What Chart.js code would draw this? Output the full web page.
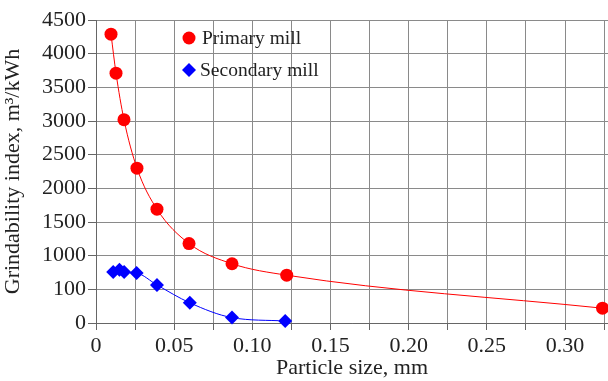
<!DOCTYPE html>
<html>
<head>
<meta charset="utf-8">
<script src="https://cdn.jsdelivr.net/npm/chart.js@4/dist/chart.umd.min.js"></script>
<style>
  html, body { margin: 0; padding: 0; background: #fff; }
  #wrap { width: 608px; height: 381px; }
</style>
</head>
<body>
<div id="wrap"><canvas id="chart" width="608" height="381"></canvas></div>
<script>
// particle sizes, mm (shared by both mills)
const primarySize = [0.0096, 0.0128, 0.0179, 0.0262, 0.039, 0.0595, 0.087, 0.122, 0.324];
const primaryIndex = [4290, 3710, 3020, 2300, 1690, 1180, 880, 710, 220];

const secondarySize = [0.011, 0.015, 0.018, 0.026, 0.039, 0.060, 0.087, 0.121];
const secondaryIndex = [757, 790, 757, 742, 565, 300, 80, 30];

// axis ticks (the original labels the 500 line as "100")
const yTicks = [0, 500, 1000, 1500, 2000, 2500, 3000, 3500, 4000, 4500];
const yTickLabels = ["0", "100", "1000", "1500", "2000", "2500", "3000", "3500", "4000", "4500"];
const xTicks = [0, 0.025, 0.05, 0.075, 0.1, 0.125, 0.15, 0.175, 0.2, 0.225, 0.25, 0.275, 0.3, 0.325];
const xTickLabels = ["0", "", "0.05", "", "0.10", "", "0.15", "", "0.20", "", "0.25", "", "0.30", ""];

const FONT = "'Liberation Serif', 'Times New Roman', serif";
const TEXT = "#222";
const GRID = "#8a8a8a";

function toPoints(xs, ys) {
    return xs.map((x, i) => ({ x: x, y: ys[i] }));
}

// legend drawn inside the plot, over the grid
const innerLegend = {
    id: "innerLegend",
    afterDatasetsDraw(chart) {
        const ctx = chart.ctx;
        ctx.save();
        ctx.font = "19.5px " + FONT;
        ctx.textBaseline = "middle";

        ctx.beginPath();
        ctx.arc(189, 38, 6.5, 0, Math.PI * 2);
        ctx.fillStyle = "#ff0000";
        ctx.fill();
        ctx.fillStyle = TEXT;
        ctx.fillText("Primary mill", 202, 39);

        ctx.beginPath();
        ctx.moveTo(189, 63);
        ctx.lineTo(196, 70);
        ctx.lineTo(189, 77);
        ctx.lineTo(182, 70);
        ctx.closePath();
        ctx.fillStyle = "#0000ff";
        ctx.fill();
        ctx.fillStyle = TEXT;
        ctx.fillText("Secondary mill", 200, 71);
        ctx.restore();
    }
};

new Chart(document.getElementById("chart"), {
    type: "scatter",
    data: {
        datasets: [
            {
                label: "Primary mill",
                data: toPoints(primarySize, primaryIndex),
                showLine: true,
                borderColor: "#ff0000",
                borderWidth: 1,
                backgroundColor: "#ff0000",
                pointStyle: "circle",
                pointRadius: 6.5,
                pointBorderWidth: 0,
                cubicInterpolationMode: "monotone",
                clip: false
            },
            {
                label: "Secondary mill",
                data: toPoints(secondarySize, secondaryIndex),
                showLine: true,
                borderColor: "#0000ff",
                borderWidth: 1,
                backgroundColor: "#0000ff",
                pointStyle: "rectRot",
                pointRadius: 7,
                pointBorderWidth: 0,
                cubicInterpolationMode: "monotone",
                clip: false
            }
        ]
    },
    options: {
        responsive: false,
        animation: false,
        layout: { autoPadding: false, padding: { top: 20, right: 0, left: 0, bottom: 0 } },
        plugins: {
            legend: { display: false },
            tooltip: { enabled: false }
        },
        scales: {
            x: {
                type: "linear",
                min: 0,
                max: 0.3275,
                afterBuildTicks: scale => { scale.ticks = xTicks.map(v => ({ value: v })); },
                afterFit: scale => {
                    scale.height = 58;
                    scale.paddingLeft = 0;
                    scale.paddingRight = 0;
                },
                grid: { color: GRID, lineWidth: 1, tickLength: 7, drawTicks: true, tickColor: "#666" },
                border: { color: "#666", width: 1 },
                ticks: {
                    autoSkip: false,
                    maxRotation: 0,
                    padding: 3,
                    color: TEXT,
                    font: { family: FONT, size: 22 },
                    callback: (v, i) => xTickLabels[i]
                },
                title: {
                    display: true,
                    text: "Particle size, mm",
                    color: TEXT,
                    font: { family: FONT, size: 22 },
                    padding: { top: 0, bottom: 0 }
                }
            },
            y: {
                type: "linear",
                min: 0,
                max: 4500,
                afterBuildTicks: scale => { scale.ticks = yTicks.map(v => ({ value: v })); },
                afterFit: scale => {
                    scale.width = 96;
                    scale.paddingTop = 0;
                    scale.paddingBottom = 0;
                },
                grid: { color: GRID, lineWidth: 1, tickLength: 8, drawTicks: true, tickColor: "#666" },
                border: { color: "#666", width: 1 },
                ticks: {
                    autoSkip: false,
                    padding: 2,
                    color: TEXT,
                    font: { family: FONT, size: 22 },
                    callback: (v, i) => yTickLabels[i]
                },
                title: {
                    display: true,
                    text: "Grindability index, m\u00b3/kWh",
                    color: TEXT,
                    font: { family: FONT, size: 22 },
                    padding: { top: 0, bottom: 1 }
                }
            }
        }
    },
    plugins: [innerLegend]
});
</script>
</body>
</html>
